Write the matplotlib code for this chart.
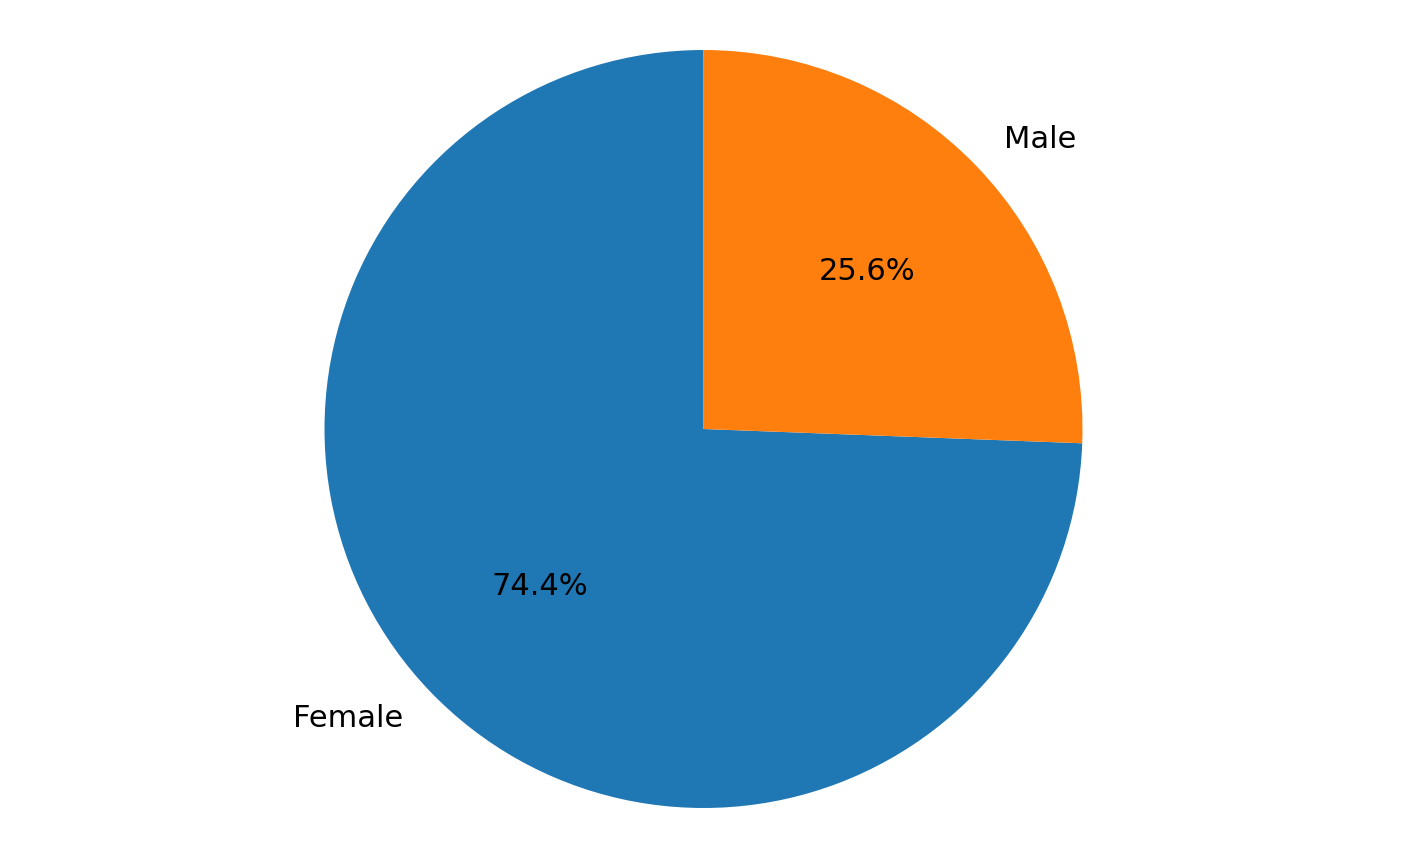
import matplotlib
matplotlib.use("Agg")
import matplotlib.pyplot as plt

labels = ['Female', 'Male']
shares = [74.4, 25.6]
colors = ['#1f77b4', '#ff7f0e']

W, H = 1407, 858
R_PX = 379  # pie radius in pixels

fig = plt.figure(figsize=(W / 100, H / 100), dpi=100)
ax = fig.add_axes([0, 0, 1, 1])
ax.pie(shares, labels=labels, colors=colors, autopct='%1.1f%%',
       startangle=90, textprops={'fontsize': 22})
ax.set_xlim(-W / 2 / R_PX, W / 2 / R_PX)
ax.set_ylim(-H / 2 / R_PX, H / 2 / R_PX)
ax.set_aspect('auto')
ax.axis('off')

fig.savefig('out.png', dpi=100)
